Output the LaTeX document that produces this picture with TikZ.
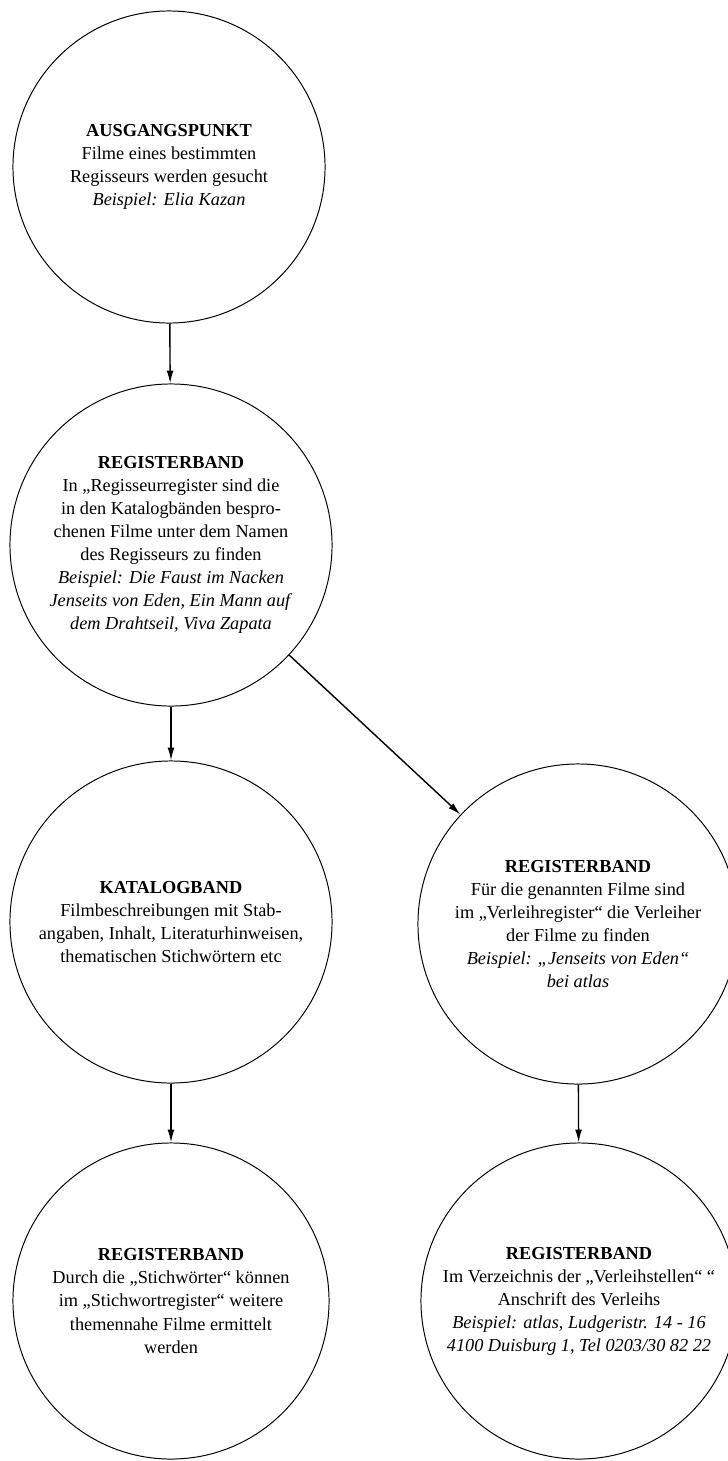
\documentclass[tikz,border=0pt]{standalone}
\usepackage{fontspec}
\setmainfont{Liberation Serif}
\usetikzlibrary{arrows.meta}
\tikzset{
	band/.style={draw, circle, line width=0.7pt, inner sep=0pt, minimum size=8cm,
		align=center, font=\fontsize{13}{16.4}\selectfont},
	pfeil/.style={line width=1pt, -{Latex[length=3.2mm, width=1.7mm]}}
}
\begin{document}
\begin{tikzpicture}[x=0.025cm, y=-0.025cm]
			\useasboundingbox (0, 0) rectangle (728, 1461);

			%%draw the circles
			\node[band, minimum size=7.8cm] (start) at (169, 167){\textbf{AUSGANGSPUNKT}\\
				Filme eines bestimmten\\ Regisseurs werden gesucht\\ \textit{Beispiel: Elia Kazan}};

			\node[band, minimum size=8.05cm] (regie) at (171, 545){\textbf{REGISTERBAND}\\
				In ,,Regisseurregister sind die\\ in den Katalogbänden bespro-\\
				chenen Filme unter dem Namen\\ des Regisseurs zu finden\\
				\textit{Beispiel: Die Faust im Nacken}\\ \textit{Jenseits von Eden, Ein Mann auf}\\
				\textit{dem Drahtseil, Viva Zapata}};

			\node[band, minimum size=8.05cm] (katalog) at (171, 922){\textbf{KATALOGBAND}\\
				Filmbeschreibungen mit Stab-\\ angaben, Inhalt, Literaturhinweisen,\\
				thematischen Stichwörtern etc};

			\node[band, minimum size=7.9cm] (stichwort) at (171, 1301){\textbf{REGISTERBAND}\\
				Durch die ,,Stichwörter“ können\\ im ,,Stichwortregister“ weitere\\
				themennahe Filme ermittelt\\ werden};

			\node[band] (verleih) at (578, 924){\textbf{REGISTERBAND}\\
				Für die genannten Filme sind\\ im ,,Verleihregister“ die Verleiher\\
				der Filme zu finden\\ \textit{Beispiel: ,,Jenseits von Eden“}\\ \textit{bei atlas}};

			\node[band, minimum size=7.9cm] (anschrift) at (579, 1301){\textbf{REGISTERBAND}\\
				Im Verzeichnis der ,,Verleihstellen“ “\\ Anschrift des Verleihs\\
				\textit{Beispiel: atlas, Ludgeristr. 14 - 16}\\ \textit{4100 Duisburg 1, Tel 0203/30 82 22}};

			%%draw the arrows
			\draw[pfeil] (start) to (regie);
			\draw[pfeil] (regie) to (katalog);
			\draw[pfeil] (katalog) to (stichwort);
			\draw[pfeil] (regie) to (verleih);
			\draw[pfeil] (verleih) to (anschrift);
		\end{tikzpicture}
\end{document}
